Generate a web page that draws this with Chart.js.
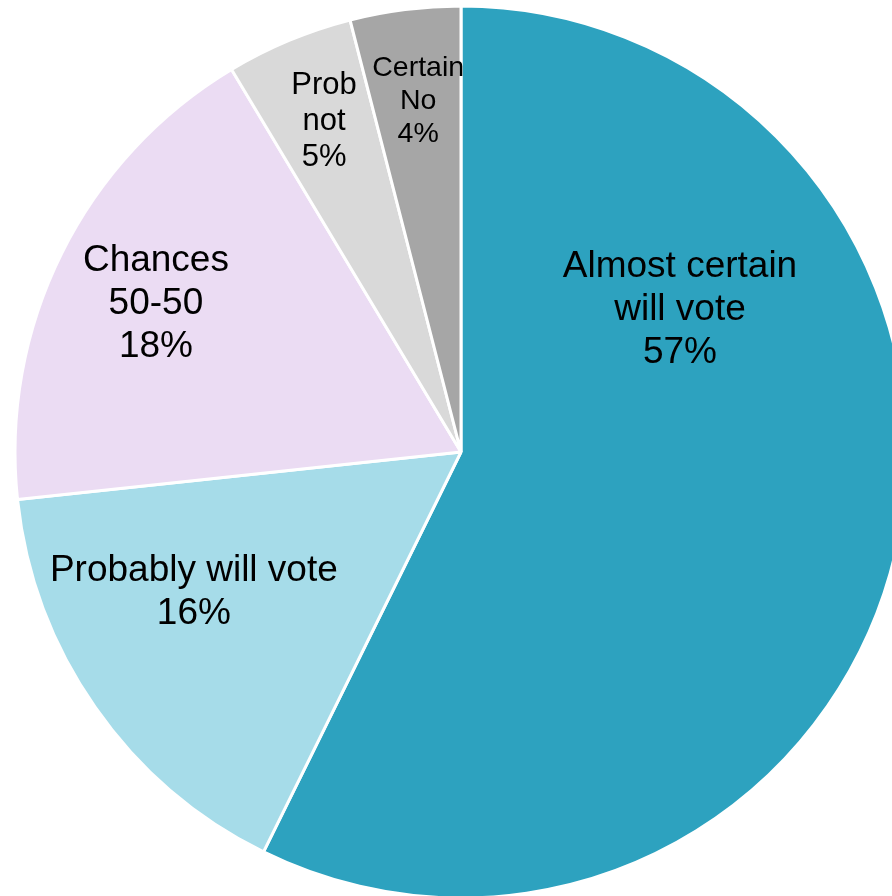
<!DOCTYPE html>
<html>
<head>
<meta charset="utf-8">
<script src="https://cdn.jsdelivr.net/npm/chart.js@4/dist/chart.umd.min.js"></script>
<style>
  html, body { margin: 0; padding: 0; overflow: hidden; background: #fff; }
  #chart_vote { display: block; }
</style>
</head>
<body>
<canvas id="chart_vote" width="922" height="904"></canvas>
<script>
/* data */
const categories = ['Almost certain will vote', 'Probably will vote', 'Chances 50-50', 'Prob not', 'Certain No'];
const label_lines = [['Almost certain', 'will vote'], ['Probably will vote'], ['Chances', '50-50'], ['Prob', 'not'], ['Certain', 'No']];
const shares = [57.3, 16.0, 18.1, 4.6, 4.0];   // % (labels show rounded)
const colors = ['#2da2bf', '#a6dce9', '#ebdcf3', '#d9d9d9', '#a6a6a6'];

// label placement, offset from pie centre in units of radius
const label_pos = [
  { dx: 0.491, dy: -0.318, size: 37 },
  { dx: -0.599, dy: 0.314, size: 37 },
  { dx: -0.684, dy: -0.332, size: 37 },
  { dx: -0.307, dy: -0.742, size: 31 },
  { dx: -0.096, dy: -0.787, size: 28.5 }
];

const slice_labels = {
  id: 'slice_labels',
  afterDatasetsDraw(chart) {
    const ctx = chart.ctx;
    const meta = chart.getDatasetMeta(0);
    ctx.save();
    ctx.fillStyle = '#000';
    ctx.textAlign = 'center';
    ctx.textBaseline = 'middle';
    meta.data.forEach((arc, i) => {
      const p = label_pos[i];
      const lines = label_lines[i].concat([Math.round(shares[i]) + '%']);
      const lh = p.size * 1.16;
      const x = arc.x + p.dx * arc.outerRadius;
      const y = arc.y + p.dy * arc.outerRadius;
      ctx.font = p.size + 'px "Liberation Sans", Arial, sans-serif';
      lines.forEach((t, k) => {
        ctx.fillText(t, x, y + (k - (lines.length - 1) / 2) * lh);
      });
    });
    ctx.restore();
  }
};

const ctx_vote = document.getElementById('chart_vote');

var config_vote = {
  type: 'pie',
  data: {
    labels: categories,
    datasets: [{
      data: shares,
      backgroundColor: colors,
      borderColor: '#ffffff',
      borderWidth: 3
    }]
  },
  options: {
    responsive: false,
    animation: false,
    radius: 446,
    layout: { padding: 0 },
    plugins: {
      legend: { display: false },
      tooltip: { enabled: false }
    }
  },
  plugins: [slice_labels]
};

var chart_vote = new Chart(ctx_vote, config_vote);
</script>
</body>
</html>
